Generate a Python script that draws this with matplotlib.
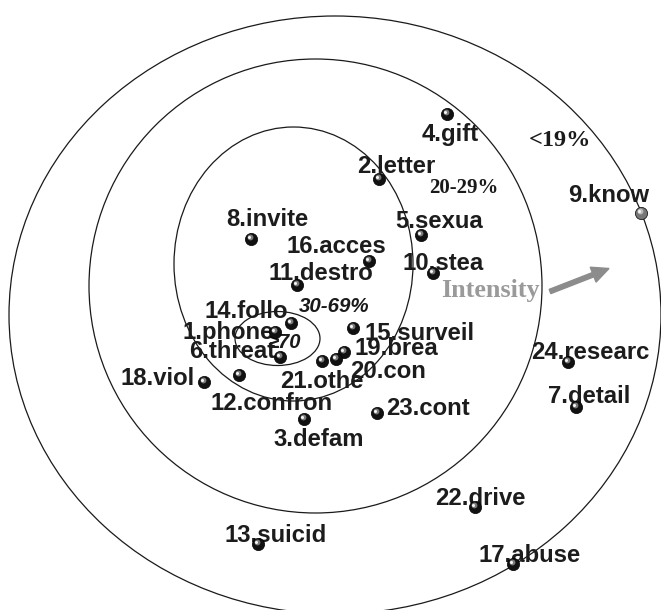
import matplotlib
matplotlib.use('Agg')
import matplotlib.pyplot as plt
from matplotlib.patches import Ellipse

# stimulus positions on the map (image-space units, y grows downward)
names = ['1.phone', '2.letter', '3.defam', '4.gift', '5.sexua', '6.threat',
         '7.detail', '8.invite', '9.know', '10.stea', '11.destro', '12.confron',
         '13.suicid', '14.follo', '15.surveil', '16.acces', '17.abuse', '18.viol',
         '19.brea', '20.con', '21.othe', '22.drive', '23.cont', '24.researc']
pos_x = [275, 379, 304, 447, 421, 280, 576, 251, 641, 433, 297, 239,
         258, 291, 353, 369, 513, 204, 344, 336, 322, 475, 377, 568]
pos_y = [332, 179, 419, 114, 235, 357, 407, 239, 213, 273, 285, 375,
         544, 323, 328, 261, 564, 382, 352, 359, 361, 507, 413, 362]

# prevalence rings: centre x, centre y, half width, half height
ring_names = ['<19%', '20-29%', '30-69%', '\u226570']
ring_cx = [335, 315.5, 293.5, 277.5]
ring_cy = [315, 286, 264, 338.5]
ring_rx = [326, 226.5, 119.5, 42.5]
ring_ry = [299, 227, 137, 27]

# label anchors (left edge, baseline)
lab_x = [183, 357, 273, 422, 395, 189, 548, 226, 568, 403, 268, 210,
         224, 205, 364, 287, 479, 121, 355, 350, 280, 435, 386, 531]
lab_y = [339, 173, 446, 140.5, 228, 357.5, 403, 226.5, 201.5, 270, 280.5, 410,
         541.5, 318, 340.5, 253, 561.5, 385, 355, 377.5, 388.5, 505, 415, 359]

W, H = 661, 610
fig = plt.figure(figsize=(W / 100, H / 100), dpi=100)
ax = fig.add_axes([0, 0, 1, 1])
ax.set_xlim(0, W)
ax.set_ylim(H, 0)
ax.axis('off')

for cx, cy, rx, ry in zip(ring_cx, ring_cy, ring_rx, ring_ry):
    ax.add_patch(Ellipse((cx, cy), 2 * rx, 2 * ry, fill=False,
                         edgecolor='#1a1a1a', linewidth=0.9, zorder=1))

# ring captions
ax.text(529, 145.5, ring_names[0], family='Liberation Serif', weight='bold',
        fontsize=17.5, color='#1a1a1a', va='baseline')
ax.text(429, 193, ring_names[1], family='Liberation Serif', weight='bold',
        fontsize=15, color='#1a1a1a', va='baseline')
ax.text(299, 311.5, ring_names[2], family='Liberation Sans', weight='bold',
        style='italic', fontsize=14.8, color='#1a1a1a', va='baseline')
ax.text(301, 348.5, ring_names[3], family=['Liberation Sans', 'DejaVu Sans'],
        style='italic', weight='bold', fontsize=14.5, color='#1a1a1a',
        va='baseline', ha='right', zorder=2)

# intensity arrow
ax.text(441, 296.5, 'Intensity', family='Liberation Serif', weight='bold',
        fontsize=18.8, color='#9a9a9a', va='baseline')
ax.arrow(550, 291.5, 59, -23, width=4.5, head_width=16, head_length=17,
         length_includes_head=True, color='#8c8c8c', zorder=3)

# labels
for name, tx, ty in zip(names, lab_x, lab_y):
    ax.text(tx, ty, name, family='Liberation Sans', weight='bold',
            fontsize=17.2, color='#1c1c1c', va='baseline', zorder=3)

# shaded ball markers
for name, x, y in zip(names, pos_x, pos_y):
    base = '#777777' if name == '9.know' else '#111111'
    mid = '#bbbbbb' if name == '9.know' else '#7a7a7a'
    ax.plot(x, y, 'o', ms=8.8, color=base, mec='#000000', mew=0.5, zorder=4)
    ax.plot(x - 1.3, y - 1.6, 'o', ms=4.2, color=mid, mew=0, zorder=5)
    ax.plot(x - 1.8, y - 2.2, 'o', ms=2.2, color='#f4f4f4', mew=0, zorder=6)

fig.savefig('out.png', dpi=100, facecolor='white')
